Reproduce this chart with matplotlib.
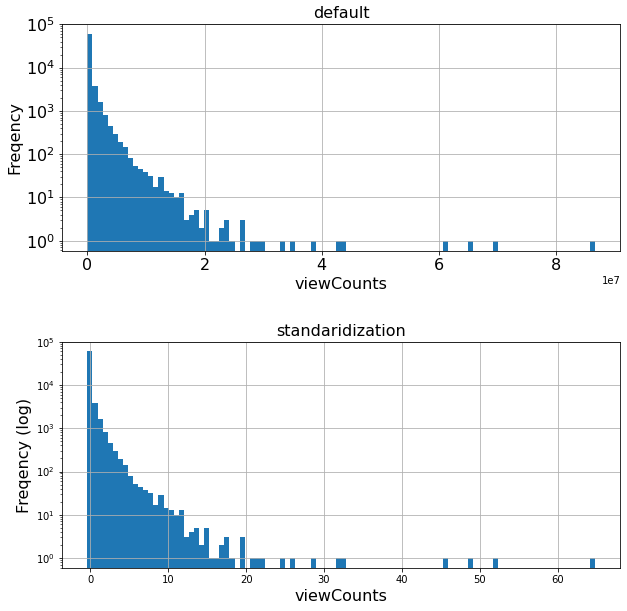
import numpy as np
import matplotlib
matplotlib.use("Agg")
import matplotlib.pyplot as plt

# histogram counts per bin (100 bins)
counts = [60000, 3800, 1600, 800, 450, 300, 190, 145, 80, 52,
          45, 38, 32, 17, 29, 14, 13, 10, 13, 3,
          4, 5, 2, 5, 1, 1, 2, 3, 1, 0,
          3, 0, 1, 1, 1, 0, 0, 0, 1, 0,
          1, 0, 0, 0, 1, 0, 0, 0, 0, 1,
          1, 0, 0, 0, 0, 0, 0, 0, 0, 0,
          0, 0, 0, 0, 0, 0, 0, 0, 0, 0,
          1, 0, 0, 0, 0, 1, 0, 0, 0, 0,
          1, 0, 0, 0, 0, 0, 0, 0, 0, 0,
          0, 0, 0, 0, 0, 0, 0, 0, 0, 1]

# value ranges of the raw and standardized viewCounts
raw_range = (0.0, 8.66e7)
std_range = (-0.39, 64.8)

titles = ["default", "standaridization"]
ylabels = ["Freqency", "Freqency (log)"]
xlabel = "viewCounts"


def drawHist(ax, lo, hi, title, ylabel):
    edges = np.linspace(lo, hi, len(counts) + 1)
    ax.hist(edges[:-1], bins=edges, weights=counts, log=True, color="#1f77b4")
    ax.set_ylim(0.58, 1e5)
    # grid sits on top of the bars, like pandas' hist
    ax.grid(True, color="#b0b0b0", linewidth=0.8)
    ax.set_title(title, fontsize=16)
    ax.set_xlabel(xlabel, fontsize=16)
    ax.set_ylabel(ylabel, fontsize=16)


W, H = 627, 611
fig = plt.figure(figsize=(W / 72, H / 72), dpi=72)

ax1 = fig.add_axes([62 / W, 1 - 251 / H, 558.3 / W, 226.7 / H])
drawHist(ax1, *raw_range, titles[0], ylabels[0])
ax1.tick_params(labelsize=16)

ax2 = fig.add_axes([62 / W, 1 - 568.3 / H, 558.3 / W, 226.6 / H])
drawHist(ax2, *std_range, titles[1], ylabels[1])

fig.savefig("out.png", dpi=72)
